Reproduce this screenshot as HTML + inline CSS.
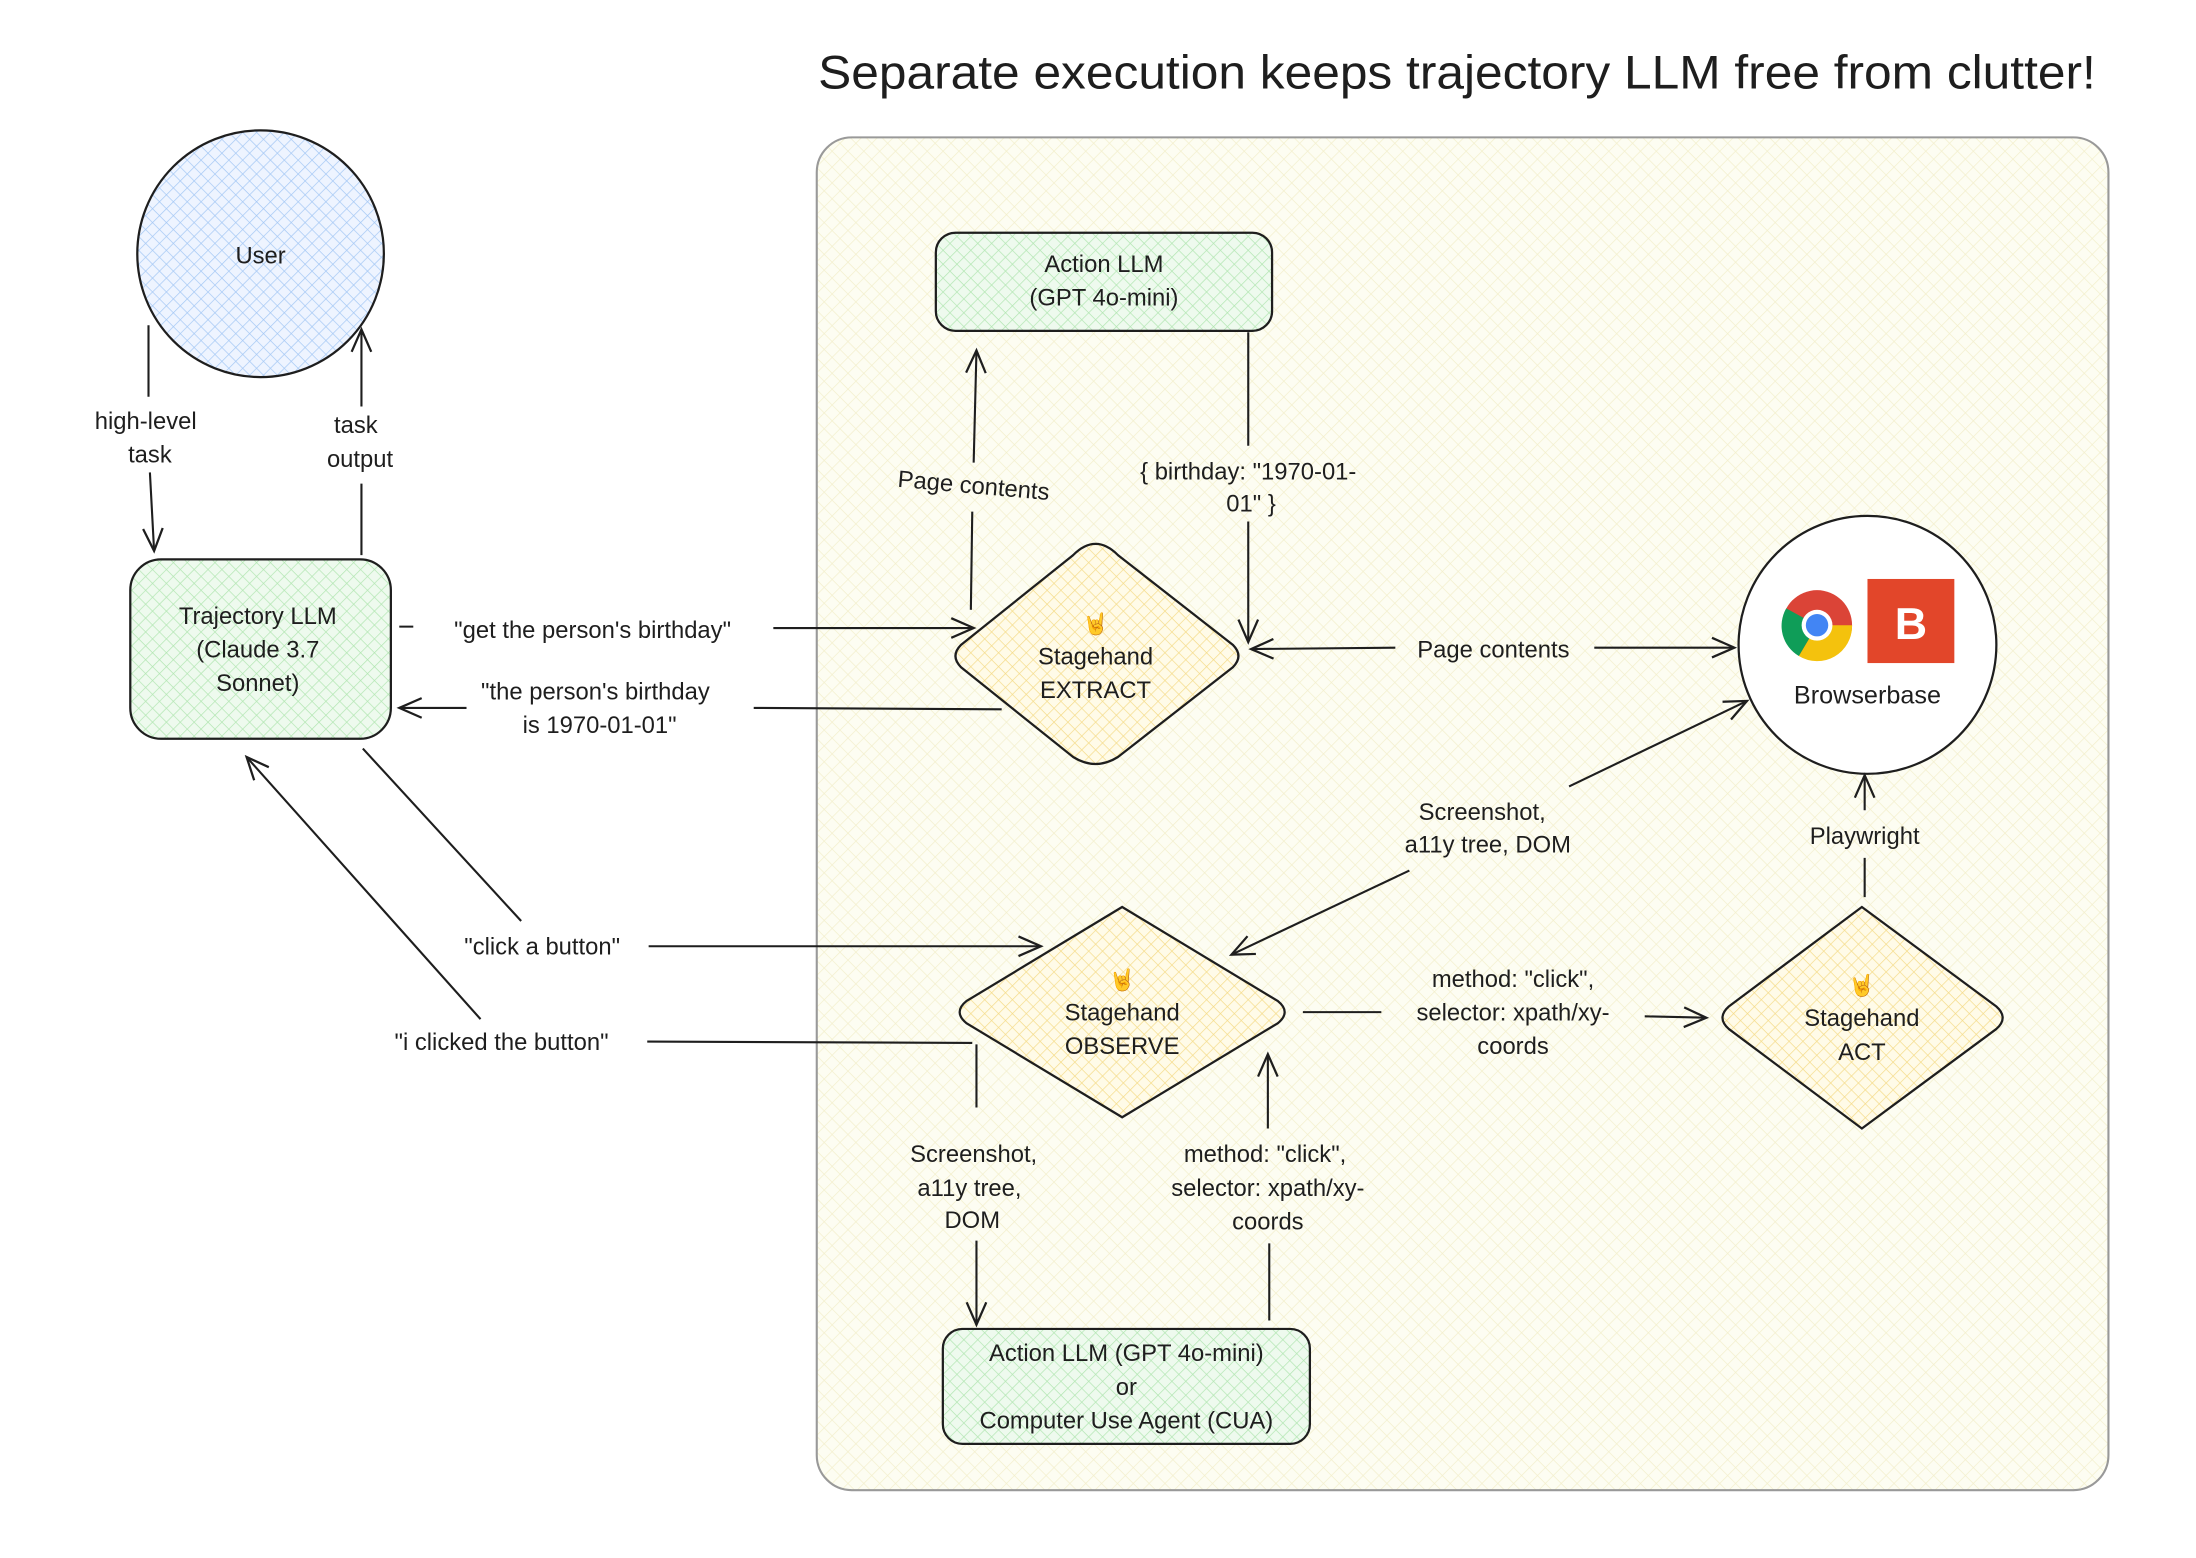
<!DOCTYPE html>
<html><head><meta charset="utf-8"><style>
html,body{margin:0;padding:0;background:#fff;}
svg{display:block;}
text{font-family:"Liberation Sans","DejaVu Sans",sans-serif;fill:#1e1e1e;}
</style></head><body>
<svg width="2196" height="1558" viewBox="0 0 1567.5 1111.4" preserveAspectRatio="none" xmlns="http://www.w3.org/2000/svg">
<defs>
<pattern id="hy" width="8" height="8" patternUnits="userSpaceOnUse" patternTransform="rotate(45)">
<rect width="8" height="8" fill="#fdfdf2"/><line x1="0" y1="0" x2="0" y2="8" stroke="#f3efcc" stroke-width="1"/><line x1="0" y1="0" x2="8" y2="0" stroke="#f3efcc" stroke-width="1"/></pattern>
<pattern id="hb" width="7" height="7" patternUnits="userSpaceOnUse" patternTransform="rotate(45)">
<rect width="7" height="7" fill="#eef4ff"/><line x1="0" y1="0" x2="0" y2="7" stroke="#a5c8f5" stroke-width="1"/><line x1="0" y1="0" x2="7" y2="0" stroke="#a5c8f5" stroke-width="1"/></pattern>
<pattern id="hg" width="7" height="7" patternUnits="userSpaceOnUse" patternTransform="rotate(45)">
<rect width="7" height="7" fill="#eefaee"/><line x1="0" y1="0" x2="0" y2="7" stroke="#b2e6b2" stroke-width="1"/><line x1="0" y1="0" x2="7" y2="0" stroke="#b2e6b2" stroke-width="1"/></pattern>
<pattern id="ho" width="7" height="7" patternUnits="userSpaceOnUse" patternTransform="rotate(45)">
<rect width="7" height="7" fill="#fffbe8"/><line x1="0" y1="0" x2="0" y2="7" stroke="#f5dc8a" stroke-width="1"/><line x1="0" y1="0" x2="7" y2="0" stroke="#f5dc8a" stroke-width="1"/></pattern>
<marker id="a" viewBox="0 0 20 20" refX="18" refY="10" markerWidth="20" markerHeight="20" markerUnits="userSpaceOnUse" orient="auto-start-reverse">
<path d="M2,3 L18,10 L2,17" fill="none" stroke="#1e1e1e" stroke-width="1.6"/></marker>
</defs>
<text x="1040" y="63" font-size="34" text-anchor="middle" textLength="912" lengthAdjust="spacingAndGlyphs">Separate execution keeps trajectory LLM free from clutter!</text>
<rect x="583" y="98" width="922" height="965" rx="25" fill="url(#hy)" stroke="#999" stroke-width="1.5"/>

<circle cx="186" cy="181" r="88" fill="url(#hb)" stroke="#1e1e1e" stroke-width="1.6"/>
<text x="186" y="188" font-size="17" text-anchor="middle">User</text>

<rect x="93" y="399" width="186" height="128" rx="22" fill="url(#hg)" stroke="#1e1e1e" stroke-width="1.6"/>
<text font-size="17" text-anchor="middle"><tspan x="184" y="445">Trajectory LLM</tspan><tspan x="184" y="469">(Claude 3.7</tspan><tspan x="184" y="493">Sonnet)</tspan></text>

<rect x="668" y="166" width="240" height="70" rx="14" fill="url(#hg)" stroke="#1e1e1e" stroke-width="1.6"/>
<text font-size="17" text-anchor="middle"><tspan x="788" y="194">Action LLM</tspan><tspan x="788" y="218">(GPT 4o-mini)</tspan></text>

<path d="M782,388 Q790,388 798,396 L880,460 Q888,468 880,476 L798,540 Q782,550 766,540 L686,476 Q678,468 686,460 L766,396 Q774,388 782,388Z" fill="url(#ho)" stroke="#1e1e1e" stroke-width="1.6"/>
<text font-size="17" text-anchor="middle"><tspan x="782" y="450" font-size="15">🤘</tspan><tspan x="782" y="474">Stagehand</tspan><tspan x="782" y="498">EXTRACT</tspan></text>

<path d="M801,647 L912,714 Q922,722 912,730 L801,797 L690,730 Q680,722 690,714Z" fill="url(#ho)" stroke="#1e1e1e" stroke-width="1.6"/>
<text font-size="17" text-anchor="middle"><tspan x="801" y="704" font-size="15">🤘</tspan><tspan x="801" y="728">Stagehand</tspan><tspan x="801" y="752">OBSERVE</tspan></text>

<path d="M1329,647 L1425,718 Q1434,726 1425,734 L1329,805 L1234,734 Q1225,726 1234,718Z" fill="url(#ho)" stroke="#1e1e1e" stroke-width="1.6"/>
<text font-size="17" text-anchor="middle"><tspan x="1329" y="708" font-size="15">🤘</tspan><tspan x="1329" y="732">Stagehand</tspan><tspan x="1329" y="756">ACT</tspan></text>

<rect x="673" y="948" width="262" height="82" rx="14" fill="url(#hg)" stroke="#1e1e1e" stroke-width="1.6"/>
<text font-size="17" text-anchor="middle"><tspan x="804" y="971">Action LLM (GPT 4o-mini)</tspan><tspan x="804" y="995">or</tspan><tspan x="804" y="1019">Computer Use Agent (CUA)</tspan></text>

<circle cx="1333" cy="460" r="92" fill="#fff" stroke="#1e1e1e" stroke-width="1.6"/>
<circle cx="1297" cy="446" r="25" fill="#db4437"/>
<path d="M1297,446 L1322,446 A25,25 0 0,1 1284,468Z" fill="#f4c20d"/>
<path d="M1297,446 L1284,468 A25,25 0 0,1 1275,434Z" fill="#0f9d58"/>
<circle cx="1297" cy="446" r="11" fill="#fff"/><circle cx="1297" cy="446" r="8" fill="#4285f4"/>
<rect x="1333" y="413" width="62" height="60" fill="#e2462a"/>
<text x="1364" y="456" font-size="32" style="fill:#fff" text-anchor="middle" font-weight="bold">B</text>
<text x="1333" y="502" font-size="18" text-anchor="middle">Browserbase</text>

<g fill="none" stroke="#1e1e1e" stroke-width="1.5">
<path d="M106,232 L106,283 M107,337 L110,393" marker-end="url(#a)"/>
<path d="M258,396 L258,345 M258,290 L258,235" marker-end="url(#a)"/>
<path d="M285,447 L295,447 M552,448 L695,448" marker-end="url(#a)"/>
<path d="M715,506 L538,505 M333,505 L285,505" marker-end="url(#a)"/>
<path d="M693,435 L694,365 M695,330 L697,250" marker-end="url(#a)"/>
<path d="M891,237 L891,318 M891,372 L891,458" marker-end="url(#a)"/>
<path d="M996,462 L893,463" marker-end="url(#a)"/>
<path d="M1138,462 L1238,462" marker-end="url(#a)"/>
<path d="M1006,621 L879,681" marker-end="url(#a)"/>
<path d="M1120,561 L1247,500" marker-end="url(#a)"/>
<path d="M1331,640 L1331,612 M1331,578 L1331,553" marker-end="url(#a)"/>
<path d="M259,534 L372,657 M463,675 L743,675" marker-end="url(#a)"/>
<path d="M694,744 L462,743 M343,727 L176,540" marker-end="url(#a)"/>
<path d="M930,722 L986,722 M1174,725 L1218,726" marker-end="url(#a)"/>
<path d="M697,745 L697,790 M697,885 L697,945" marker-end="url(#a)"/>
<path d="M906,942 L906,887 M905,805 L905,752" marker-end="url(#a)"/>
</g>

<g font-size="17" text-anchor="middle">
<text><tspan x="104" y="306">high-level</tspan><tspan x="107" y="330">task</tspan></text>
<text><tspan x="254" y="309">task</tspan><tspan x="257" y="333">output</tspan></text>
<text x="423" y="455">"get the person's birthday"</text>
<text><tspan x="425" y="499">"the person's birthday</tspan><tspan x="428" y="523">is 1970-01-01"</tspan></text>
<text x="695" y="352" transform="rotate(5 695 346)">Page contents</text>
<text><tspan x="891" y="342">{ birthday: "1970-01-</tspan><tspan x="893" y="365">01" }</tspan></text>
<text x="1066" y="469">Page contents</text>
<text><tspan x="1058" y="585">Screenshot,</tspan><tspan x="1062" y="608">a11y tree, DOM</tspan></text>
<text x="1331" y="602">Playwright</text>
<text x="387" y="681">"click a button"</text>
<text x="358" y="749">"i clicked the button"</text>
<text><tspan x="1080" y="704">method: "click",</tspan><tspan x="1080" y="728">selector: xpath/xy-</tspan><tspan x="1080" y="752">coords</tspan></text>
<text><tspan x="695" y="829">Screenshot,</tspan><tspan x="692" y="853">a11y tree,</tspan><tspan x="694" y="876">DOM</tspan></text>
<text><tspan x="903" y="829">method: "click",</tspan><tspan x="905" y="853">selector: xpath/xy-</tspan><tspan x="905" y="877">coords</tspan></text>
</g>
</svg>
</body></html>
